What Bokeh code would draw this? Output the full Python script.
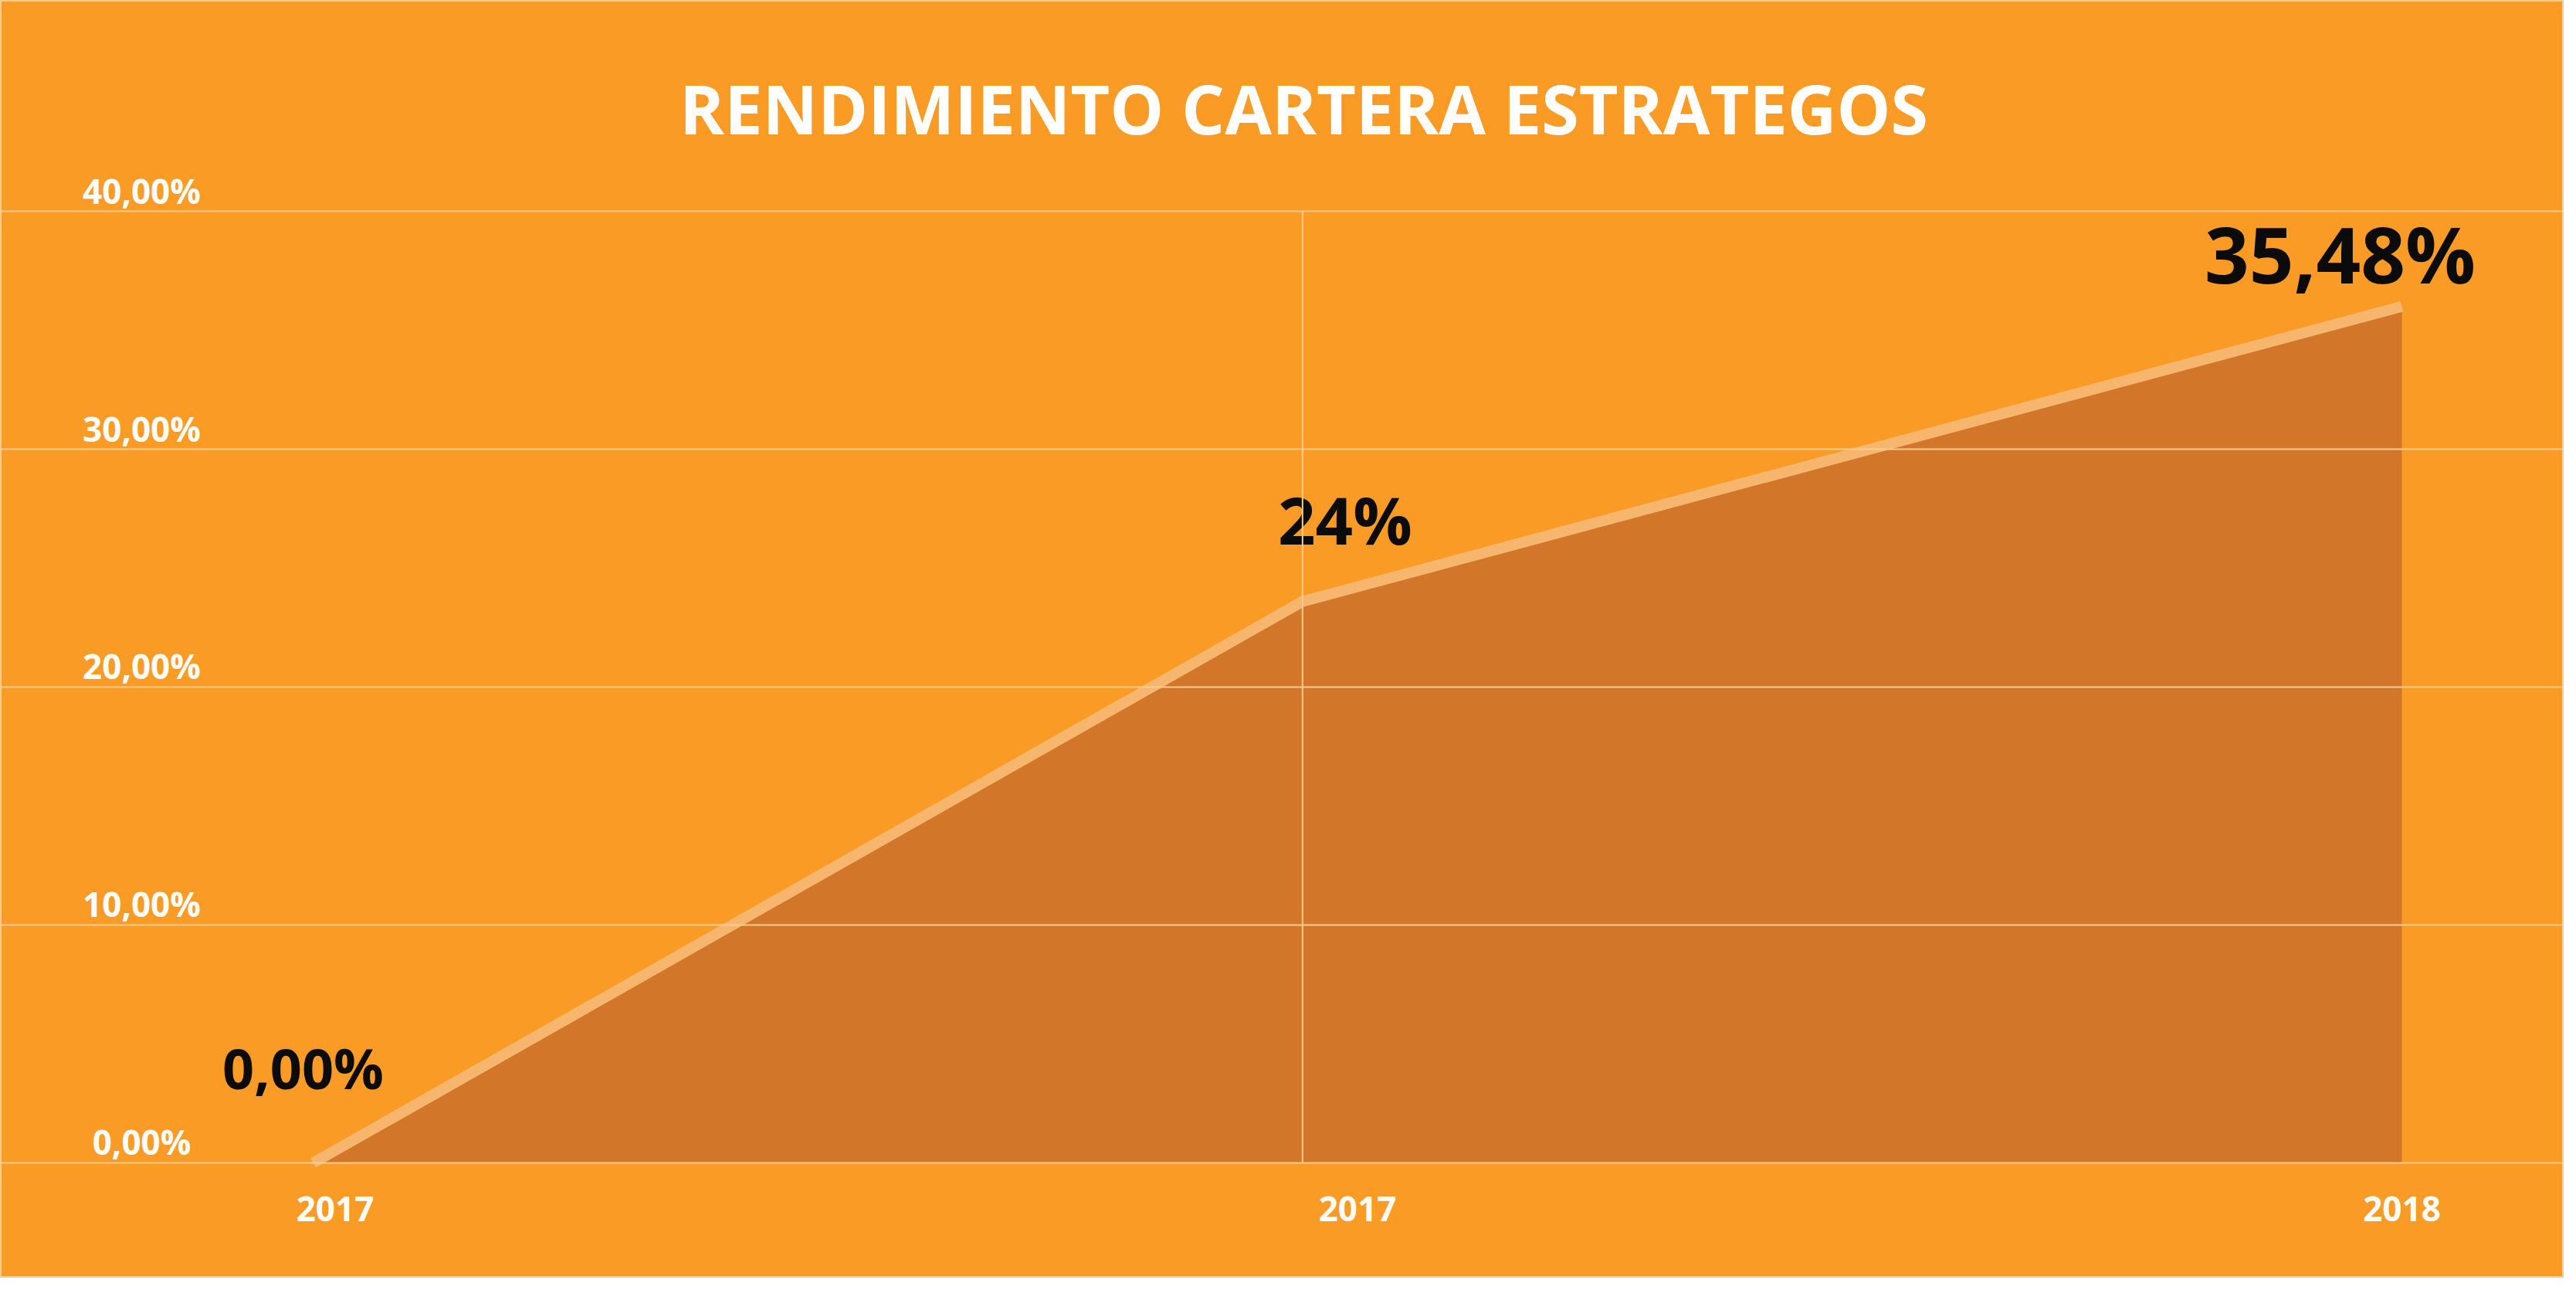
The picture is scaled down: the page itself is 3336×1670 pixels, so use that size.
from bokeh.plotting import figure
from bokeh.models import Range1d, ColumnDataSource
from bokeh.core.properties import value
from bokeh.embed import file_html
from bokeh.resources import INLINE

# ---------------- data ----------------
months = [0, 9, 19]                 # months since January 2017
returns = [0.0, 23.6, 36.0]         # cumulative portfolio return (%)
point_labels = ["0,00%", "24%", "35,48%"]
x_tick_pos = [0.2, 9.5, 19.0]
x_tick_labels = ["2017", "2017", "2018"]
y_ticks = [0, 10, 20, 30, 40]
y_tick_labels = ["0,00%", "10,00%", "20,00%", "30,00%", "40,00%"]
chart_title = "RENDIMIENTO CARTERA ESTRATEGOS"

# ---------------- style ----------------
BG = "#F99B25"
AREA = "#D27629"
LINE = "#F6B66E"
GRID = "#FCCB90"
FONT = value("Open Sans")

label_dx = [-13, 55, -80]
label_dy = [-123, -107, -69]
label_size = ["72px", "85px", "101px"]

W, H = 3320, 1654
x0, x1 = -2.8447, 20.475
y0, y1 = -4.838, 48.864

p = figure(width=W, height=H, x_range=Range1d(x0, x1), y_range=Range1d(y0, y1),
           output_backend="svg", toolbar_location=None,
           x_axis_location=None, y_axis_location=None, min_border=0)
p.background_fill_color = BG
p.border_fill_color = BG
p.grid.visible = False
p.outline_line_color = GRID
p.outline_line_width = 3

# area + line
src = ColumnDataSource(dict(x=months, y=returns, zero=[0] * len(months),
                            lab=point_labels, dx=label_dx, dy=label_dy, fs=label_size))
p.varea(x="x", y1="zero", y2="y", source=src, fill_color=AREA)
p.line(x="x", y="y", source=src, line_color=LINE, line_width=14, line_cap="butt")

# data labels
p.text(x="x", y="y", text="lab", source=src, x_offset="dx", y_offset="dy",
       text_font_size="fs", text_font=FONT, text_font_style="bold",
       text_color="#0B0B0B", text_align="center", text_baseline="alphabetic")

# y tick labels
ysrc = ColumnDataSource(dict(x=[x0] * len(y_ticks), y=y_ticks, t=y_tick_labels))
p.text(x="x", y="y", text="t", source=ysrc, x_offset=183, y_offset=-27,
       text_font_size="44px", text_font=FONT, text_font_style="bold",
       text_color="white", text_align="center", text_baseline="alphabetic")

# x tick labels
xsrc = ColumnDataSource(dict(x=x_tick_pos, y=[0] * len(x_tick_pos), t=x_tick_labels))
p.text(x="x", y="y", text="t", source=xsrc, y_offset=60,
       text_font_size="44px", text_font=FONT, text_font_style="bold",
       text_color="white", text_align="center", text_baseline="alphabetic")

# title
p.text(x=[x0], y=[y1], text=[chart_title], x_offset=1688, y_offset=139,
       text_font_size="88px", text_font=FONT, text_font_style="bold",
       text_color="white", text_align="center", text_baseline="alphabetic")

# gridlines (drawn on top)
p.segment(x0=[x0] * len(y_ticks), x1=[x1] * len(y_ticks), y0=y_ticks, y1=y_ticks,
          line_color=GRID, line_width=2)
p.segment(x0=[months[1]], x1=[months[1]], y0=[y_ticks[0]], y1=[y_ticks[-1]],
          line_color=GRID, line_width=2)

open("out.html", "w").write(file_html(p, INLINE))
